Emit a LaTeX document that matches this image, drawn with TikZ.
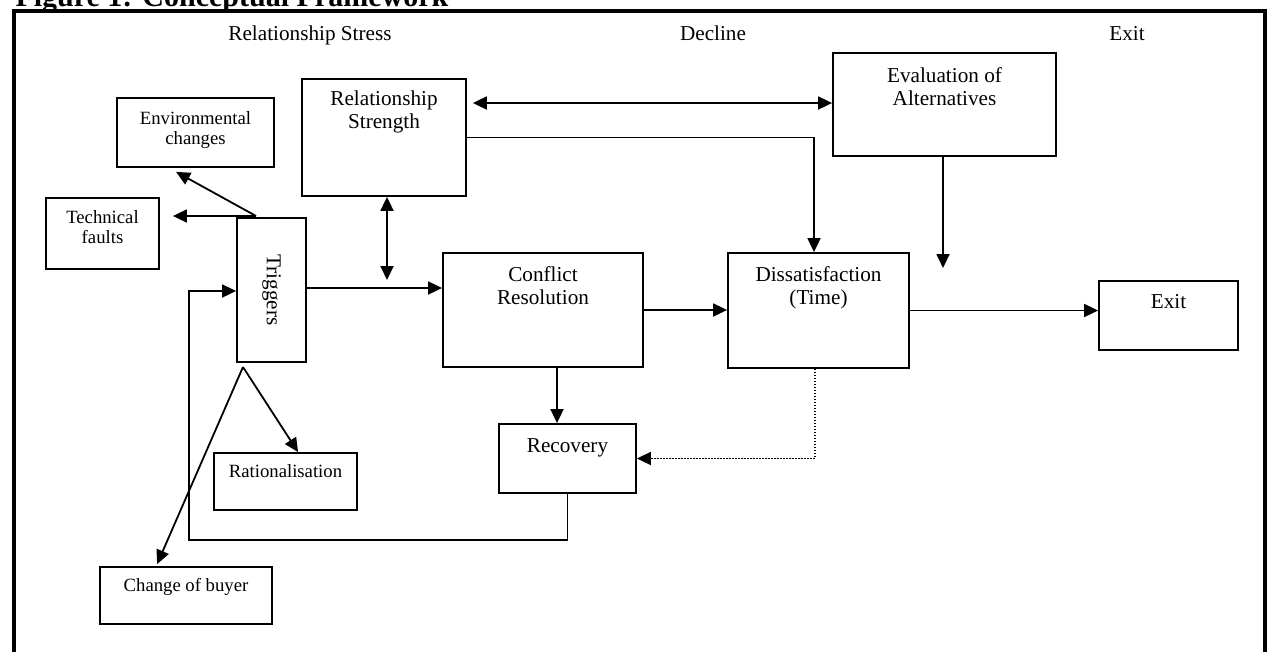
\documentclass[tikz,border=0pt]{standalone}
\usepackage{fontspec}
\setmainfont{Liberation Serif}
\usetikzlibrary{arrows.meta}
\newcommand{\boxtext}[4][28]{\parbox[c][#3pt][t]{#2pt}{\centering\rule{0pt}{#1pt}#4}}

\begin{document}
\begin{tikzpicture}[x=1pt,y=-1pt]

\tikzset{box/.style = {draw, line width=1.8pt, inner sep=0pt, font=\fontsize{21.2}{23.5}\selectfont}}
\tikzset{smallbox/.style = {box, font=\fontsize{18.7}{20.5}\selectfont}}
\tikzset{edge/.style = {-{Triangle[length=14pt,width=13pt]}, line width=1.8pt}}
\tikzset{dedge/.style = {{Triangle[length=14pt,width=13pt]}-{Triangle[length=14pt,width=13pt]}, line width=1.8pt}}
\tikzset{head/.style = {anchor=base, font=\fontsize{21.2}{23.5}\selectfont}}

\useasboundingbox (0,0) rectangle (1269,651);

% frame and headings
\node[anchor=base west, font=\fontsize{30}{36}\selectfont\bfseries] (title) at (12,6) {Figure 1: Conceptual Framework};
\draw[line width=4pt] (14,670) -- (14,11) -- (1265,11) -- (1265,670);
\node[head] (stress) at (310,40) {Relationship Stress};
\node[head] (decline) at (713,40) {Decline};
\node[head] (exithead) at (1127,40) {Exit};

% vertices
\node[smallbox] (env) at (195.5,132.5) {\boxtext[26]{157}{69}{Environmental\\changes}};
\node[smallbox] (tech) at (102.5,233.5) {\boxtext[25]{113}{71}{Technical\\faults}};
\node[box, minimum width=69pt, minimum height=144pt] (trig) at (271.5,290) {\rotatebox{-90}{Triggers}};
\node[smallbox] (rat) at (285.5,481.5) {\boxtext[24]{143}{57}{Rationalisation}};
\node[smallbox] (buyer) at (186,595.5) {\boxtext[24]{172}{57}{Change of buyer}};
\node[box] (rs) at (384,137.5) {\boxtext[26]{164}{117}{Relationship\\Strength}};
\node[box] (conf) at (543,310) {\boxtext{200}{114}{Conflict\\Resolution}};
\node[box] (dis) at (818.5,310.5) {\boxtext{181}{115}{Dissatisfaction\\(Time)}};
\node[box] (recov) at (567.5,458.5) {\boxtext{137}{69}{Recovery}};
\node[box] (eval) at (944.5,104.5) {\boxtext[29]{223}{103}{Evaluation of\\Alternatives}};
\node[box] (exit) at (1168.5,315.5) {\boxtext[27]{139}{69}{Exit}};

\coordinate (trigtop) at (256,216);
\coordinate (trigbot) at (243,367);
\coordinate (rsend) at (387,280);
\coordinate (evalend) at (943,268);
\coordinate (loop) at (189,540);

%edges
\draw[edge] (trigtop) -- ([xshift=60pt,yshift=-4pt]env.south west);
\draw[edge] (trigtop) -- ([xshift=13pt]trigtop -| tech.east);
\draw[edge] (trigbot) -- ([xshift=85pt]rat.north west);
\draw[edge] (trigbot) -- ([xshift=58pt,yshift=2pt]buyer.north west);
\draw[edge] ([yshift=2pt]trig.east) -- ([yshift=2pt]trig.east -| conf.west);
\draw[dedge] ([xshift=3pt]rs.south) -- (rsend);
\draw[dedge] ([xshift=6pt,yshift=34.5pt]rs.east) -- ([yshift=34.5pt]rs.east -| eval.west);
\draw[edge] (rs.east) -| ([xshift=-4.5pt]dis.north);
\draw[edge] (evalend |- eval.south) -- (evalend);
\draw[edge] (conf.east) -- (conf.east -| dis.west);
\draw[edge] (dis.east) -- (dis.east -| exit.west);
\draw[edge] ([xshift=14pt]conf.south) -- ([xshift=14pt]conf.south |- recov.north);
\draw[edge] (recov.south) |- (loop) |- ([yshift=-1pt]trig.west);
\draw[edge, dash pattern=on 1.5pt off 1.5pt] ([xshift=-3.5pt]dis.south) |- (recov.east);
\end{tikzpicture}
\end{document}
